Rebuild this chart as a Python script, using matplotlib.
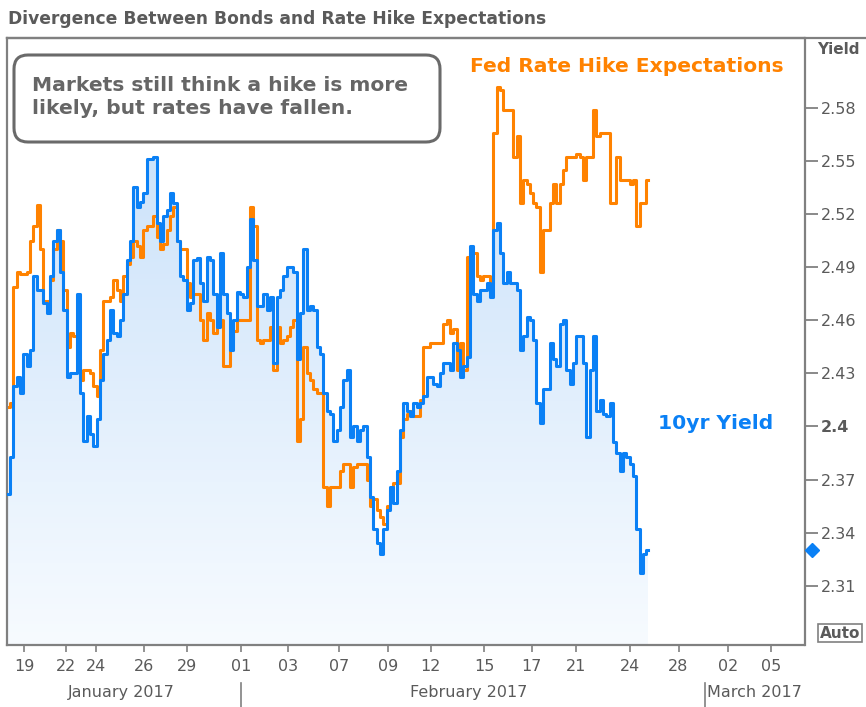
import numpy as np
import matplotlib.pyplot as plt
from matplotlib.colors import LinearSegmentedColormap
from matplotlib.patches import FancyBboxPatch
from matplotlib.lines import Line2D
from matplotlib.transforms import IdentityTransform

W, H = 866, 707

# x axis is in trading days from the left edge of the chart (weekends squeezed out)
SAMPLE_START = 0.07
SAMPLE_STEP = 0.1418

ten_year = [
    2.362, 2.383, 2.423, 2.428, 2.419, 2.441, 2.434, 2.443, 2.485, 2.477,
    2.477, 2.470, 2.464, 2.485, 2.505, 2.511, 2.487, 2.466, 2.428, 2.430,
    2.430, 2.475, 2.419, 2.392, 2.406, 2.396, 2.389, 2.404, 2.426, 2.441,
    2.449, 2.466, 2.453, 2.451, 2.460, 2.475, 2.494, 2.505, 2.535, 2.524,
    2.527, 2.532, 2.551, 2.551, 2.552, 2.515, 2.505, 2.519, 2.522,
    2.532, 2.526, 2.505, 2.485, 2.483, 2.466, 2.470, 2.494, 2.495, 2.481,
    2.471, 2.496, 2.494, 2.475, 2.456, 2.498, 2.475, 2.464, 2.443, 2.460,
    2.476, 2.475, 2.473, 2.490, 2.517, 2.494, 2.468, 2.468, 2.475, 2.466,
    2.473, 2.436, 2.473, 2.477, 2.485, 2.490, 2.490, 2.487, 2.438, 2.464,
    2.500, 2.466, 2.468, 2.466, 2.445, 2.441, 2.419, 2.409,
    2.407, 2.392, 2.398, 2.411, 2.426, 2.432, 2.394, 2.400, 2.392, 2.398,
    2.400, 2.383, 2.360, 2.342, 2.334, 2.328, 2.342, 2.353, 2.366, 2.357,
    2.375, 2.398, 2.413, 2.409, 2.406, 2.413, 2.411, 2.413, 2.417, 2.428,
    2.428, 2.424, 2.423, 2.430, 2.436, 2.436, 2.432, 2.447, 2.443, 2.428,
    2.434, 2.439, 2.502, 2.475, 2.471, 2.477, 2.477, 2.481,
    2.473, 2.511, 2.515, 2.498, 2.481, 2.487, 2.481, 2.481, 2.477, 2.443,
    2.451, 2.462, 2.460, 2.449, 2.413, 2.402, 2.421, 2.421, 2.447, 2.438,
    2.434, 2.458, 2.460, 2.432, 2.424, 2.436, 2.451, 2.451, 2.436, 2.394,
    2.432, 2.451, 2.409, 2.415, 2.407, 2.406, 2.413, 2.391, 2.385, 2.375,
    2.385, 2.383, 2.379, 2.372, 2.342, 2.317, 2.328, 2.330,
]

fed_hike = [
    2.411, 2.413, 2.479, 2.487, 2.486, 2.486, 2.487, 2.505, 2.513, 2.525,
    2.500, 2.471, 2.471, 2.483, 2.500, 2.511, 2.505, 2.477, 2.445, 2.453,
    2.451, 2.438, 2.426, 2.432, 2.432, 2.430, 2.423, 2.417, 2.443, 2.471,
    2.471, 2.473, 2.483, 2.477, 2.471, 2.485, 2.492, 2.496, 2.505, 2.502,
    2.496, 2.511, 2.513, 2.513, 2.519, 2.507, 2.500, 2.503, 2.511,
    2.519, 2.524, 2.505, 2.500, 2.500, 2.481, 2.473, 2.475, 2.475, 2.460,
    2.449, 2.464, 2.460, 2.453, 2.460, 2.460, 2.434, 2.434, 2.449, 2.454,
    2.460, 2.460, 2.460, 2.460, 2.524, 2.513, 2.449, 2.447, 2.449, 2.449,
    2.456, 2.432, 2.456, 2.447, 2.449, 2.451, 2.456, 2.460, 2.392, 2.404,
    2.445, 2.430, 2.426, 2.421, 2.419, 2.419, 2.366, 2.355,
    2.366, 2.366, 2.366, 2.375, 2.379, 2.379, 2.366, 2.377, 2.379, 2.379,
    2.379, 2.370, 2.355, 2.359, 2.353, 2.349, 2.345, 2.355, 2.364, 2.368,
    2.368, 2.394, 2.404, 2.407, 2.409, 2.406, 2.406, 2.415, 2.445, 2.445,
    2.447, 2.447, 2.447, 2.447, 2.458, 2.460, 2.453, 2.455, 2.432, 2.447,
    2.432, 2.496, 2.498, 2.498, 2.485, 2.483, 2.485, 2.485,
    2.481, 2.566, 2.592, 2.590, 2.579, 2.579, 2.579, 2.552, 2.564, 2.526,
    2.539, 2.537, 2.532, 2.526, 2.524, 2.487, 2.511, 2.511, 2.526, 2.537,
    2.526, 2.537, 2.545, 2.552, 2.552, 2.552, 2.554, 2.552, 2.539, 2.552,
    2.552, 2.579, 2.564, 2.566, 2.566, 2.566, 2.526, 2.526, 2.552, 2.539,
    2.539, 2.539, 2.537, 2.539, 2.513, 2.526, 2.526, 2.539,
]

y_ticks = [2.31, 2.34, 2.37, 2.40, 2.43, 2.46, 2.49, 2.52, 2.55, 2.58]
day_ticks = [0.74, 2.51, 3.80, 5.85, 7.69, 9.97, 11.97, 14.16, 16.23, 18.04,
             20.32, 22.35, 24.23, 26.52, 28.59, 30.71, 32.54]
day_labels = ["19", "22", "24", "26", "29", "01", "03", "07", "09", "12",
              "15", "17", "21", "24", "28", "02", "05"]
month_starts = [9.97, 29.70]
month_names = ["January 2017", "February 2017", "March 2017"]
month_centers = [4.86, 19.67, 31.80]

BLUE = "#0a80f5"
ORANGE = "#ff8200"
GREY = "#5a5a5a"
FRAME = "#808080"


def fx(x):
    return x / W


def fy(y):
    return 1 - y / H


fig = plt.figure(figsize=(W / 100, H / 100), dpi=100)
ax = fig.add_axes([fx(6.7), fy(645), fx(804.5) - fx(6.7), fy(38) - fy(645)])

xs = SAMPLE_START + SAMPLE_STEP * np.arange(len(ten_year))
xo = SAMPLE_START + SAMPLE_STEP * np.arange(len(fed_hike))
y_lo, y_hi = 2.2766, 2.6194
x_lo, x_hi = 0, 33.95

# gradient area under the 10yr line
area = ax.fill_between(xs, ten_year, y_lo, step="mid", color="none", lw=0)
cmap = LinearSegmentedColormap.from_list("fade", ["#f7fbff", "#cde3fa"])
grad = np.linspace(0, 1, 256).reshape(-1, 1)
im = ax.imshow(grad, extent=[xs[0], xs[-1], y_lo, max(ten_year)], origin="lower",
               aspect="auto", cmap=cmap, zorder=1, interpolation="bilinear")
im.set_clip_path(area.get_paths()[0], transform=ax.transData)

ax.plot(xo, fed_hike, drawstyle="steps-mid", color=ORANGE, lw=2.2, zorder=2)
ax.plot(xs, ten_year, drawstyle="steps-mid", color=BLUE, lw=2.2, zorder=3)

# last value marker on the axis
ax.plot([34.27], [ten_year[-1]], marker="D", ms=7, color=BLUE, clip_on=False, zorder=5)

ax.set_xlim(x_lo, x_hi)
ax.set_ylim(y_lo, y_hi)

for s in ax.spines.values():
    s.set_color(FRAME)
    s.set_linewidth(1.6)

ax.yaxis.tick_right()
ax.set_yticks(y_ticks)
ax.set_yticklabels([f"{v:g}" for v in y_ticks])
ax.tick_params(axis="y", length=9, width=1.3, color=FRAME, pad=3,
               labelsize=11.5, labelcolor=GREY)
for lab in ax.get_yticklabels():
    if lab.get_text() == "2.4":
        lab.set_fontweight("bold")

ax.set_xticks(day_ticks)
ax.set_xticklabels(day_labels)
ax.tick_params(axis="x", length=5, width=1.2, color=FRAME, pad=5,
               labelsize=11.5, labelcolor=GREY)

# month row under the day ticks
trans = ax.get_xaxis_transform()
for m in month_starts:
    ax.add_line(Line2D([m, m], [-0.063, -0.105], transform=trans, color=FRAME,
                       lw=1.2, clip_on=False))
for c, name in zip(month_centers, month_names):
    ax.text(c, -0.078, name, transform=trans, ha="center", va="center",
            fontsize=11.5, color=GREY)

# header
fig.add_artist(Line2D([fx(6.7), 1], [fy(38), fy(38)], color=FRAME, lw=1.6))
fig.text(fx(8), fy(19), "Divergence Between Bonds and Rate Hike Expectations",
         ha="left", va="center", fontsize=12.3, fontweight="bold", color=GREY)
fig.text(fx(838), fy(49), "Yield", ha="center", va="center", fontsize=11,
         fontweight="bold", color=GREY)
fig.text(fx(840), fy(633), "Auto", ha="center", va="center", fontsize=11,
         fontweight="bold", color=GREY,
         bbox=dict(boxstyle="square,pad=0.12", fc="white", ec=FRAME, lw=1.2))

# callout box
box = FancyBboxPatch((14, H - 142), 426, 87, boxstyle="round,pad=0,rounding_size=14",
                     transform=IdentityTransform(), fc="white", ec="#6a6a6a", lw=2.2,
                     zorder=10)
fig.add_artist(box)
fig.text(fx(32), fy(97), "Markets still think a hike is more\nlikely, but rates have fallen.",
         ha="left", va="center", fontsize=14.6, fontweight="bold", color="#666666",
         linespacing=1.3, zorder=11)

fig.text(fx(470), fy(67), "Fed Rate Hike Expectations", ha="left", va="center",
         fontsize=14.6, fontweight="bold", color=ORANGE)
fig.text(fx(658), fy(424), "10yr Yield", ha="left", va="center",
         fontsize=14.6, fontweight="bold", color=BLUE)

fig.savefig("out.png", dpi=100)
